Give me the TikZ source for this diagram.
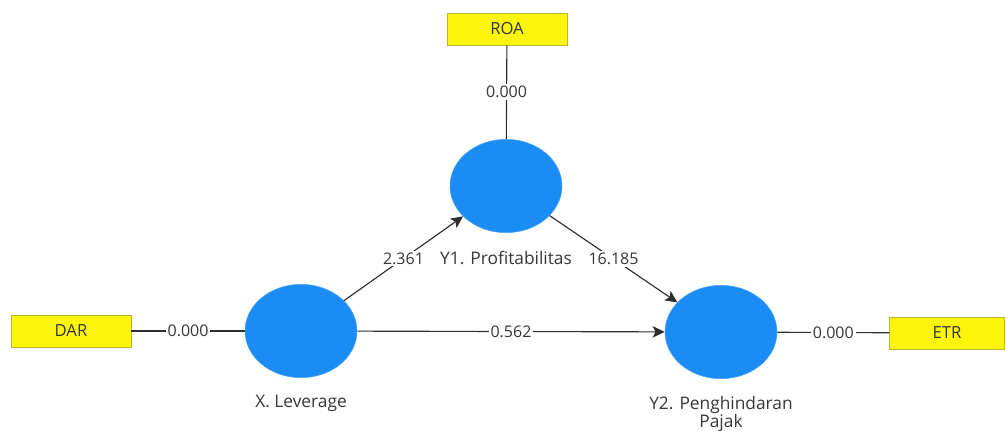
\documentclass[tikz,border=0pt]{standalone}
\usepackage{fontspec}
\setmainfont{Open Sans}
\usetikzlibrary{arrows.meta,shapes.geometric}
\definecolor{lvblue}{RGB}{28,140,245}
\definecolor{indyellow}{RGB}{250,245,10}
\definecolor{indborder}{RGB}{190,180,40}
\definecolor{linegray}{RGB}{45,45,45}
\definecolor{textgray}{RGB}{55,55,55}

\begin{document}
\begin{tikzpicture}[x=0.75pt,y=-0.75pt,->,>={Stealth[length=9pt,width=8.5pt,inset=2pt]},
  every edge/.style={draw=linegray,line width=0.85pt},
  latent node/.style={ellipse,fill=lvblue,draw=lvblue!80!white,minimum width=84pt,minimum height=70pt,inner sep=0pt},
  ind node/.style={rectangle,fill=indyellow,draw=indborder,line width=0.6pt,minimum width=90pt,minimum height=24pt,text=textgray,font=\fontsize{12.5}{14}\selectfont},
  name label/.style={text=textgray,font=\fontsize{13}{14}\selectfont,align=center}]

  \useasboundingbox (0,0) rectangle (1005,430);

  \node[latent node] (x) at (301,331) {};
  \node[latent node] (y1) at (506,186) {};
  \node[latent node] (y2) at (721,332) {};

  \node[ind node] (roa) at (507,29) {ROA};
  \node[ind node] (dar) at (71,331) {DAR};
  \node[ind node,minimum width=86pt] (etr) at (947,333) {ETR};

  \node[name label] (xlab) at (301,403) {X. Leverage};
  \node[name label] (y1lab) at (506,258) {Y1. Profitabilitas};
  \node[name label,font=\fontsize{13}{13.5}\selectfont] (y2lab) at (721,414) {Y2. Penghindaran\\Pajak};

   \path[every node/.style={fill=white,inner sep=1.5pt,text=textgray,font=\fontsize{12}{13}\selectfont}]
     (roa) edge[-] node {0.000} (y1)
     (dar) edge[-] node {0.000} (x)
     (y2) edge[-] node {0.000} (etr)
     (x) edge node {2.361} (y1)
     (y1) edge node {16.185} (y2)
     (x) edge node {0.562} (y2);

\end{tikzpicture}
\end{document}
